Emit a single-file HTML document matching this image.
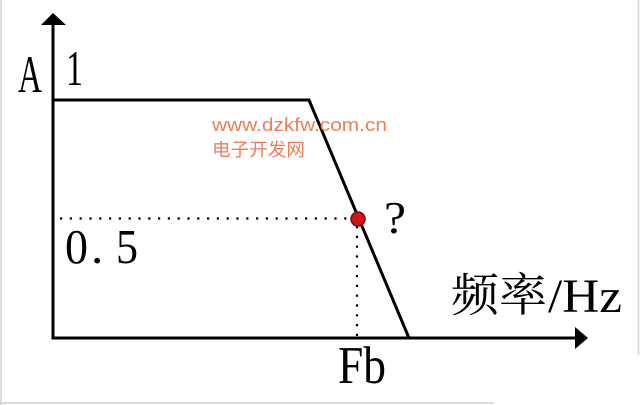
<!DOCTYPE html>
<html><head><meta charset="utf-8"><style>
html,body{margin:0;padding:0;background:#fff;}
svg{display:block;}
</style></head><body>
<svg width="640" height="405" viewBox="0 0 640 405" xmlns="http://www.w3.org/2000/svg">
<rect x="0" y="0" width="640" height="405" fill="#fff"/>
<line x1="1" y1="0" x2="1" y2="405" stroke="#d0d0d0" stroke-width="1.5"/>
<line x1="638.5" y1="0" x2="638.5" y2="355" stroke="#d0d0d0" stroke-width="1.5"/>
<line x1="0" y1="403" x2="494" y2="403" stroke="#d0d0d0" stroke-width="1.5"/>
<!-- axes -->
<line x1="53" y1="22" x2="53" y2="339.5" stroke="#000" stroke-width="3"/>
<polygon points="53,13 41,25 66,25" fill="#000"/>
<line x1="51.5" y1="338" x2="578" y2="338" stroke="#000" stroke-width="3"/>
<polygon points="588,338 575,327 575,349" fill="#000"/>
<!-- curve -->
<polyline points="53,100 309,100 409,338" fill="none" stroke="#000" stroke-width="3"/>
<!-- dotted -->
<line x1="60" y1="218.5" x2="350" y2="218.5" stroke="#000" stroke-width="2.2" stroke-dasharray="2.2 7.6"/>
<line x1="357" y1="226" x2="357" y2="336" stroke="#000" stroke-width="2.2" stroke-dasharray="2.2 7.6"/>
<circle cx="358" cy="219" r="7" fill="#d0141c" stroke="#7a0a0a" stroke-width="1.5"/>
<!-- labels -->
<g font-family="'Liberation Serif','Noto Serif CJK SC',serif" fill="#000">
<text x="18" y="92" font-size="53" textLength="24" lengthAdjust="spacingAndGlyphs">A</text>
<text x="66" y="85" font-size="50" textLength="17" lengthAdjust="spacingAndGlyphs">1</text>
<text x="65" y="263" font-size="49" textLength="23" lengthAdjust="spacingAndGlyphs">0</text>
<text x="91" y="263" font-size="49">.</text>
<text x="116" y="263" font-size="49" textLength="22" lengthAdjust="spacingAndGlyphs">5</text>
<text x="384" y="233" font-size="45" textLength="22" lengthAdjust="spacingAndGlyphs">?</text>
<text x="338" y="383" font-size="53" textLength="48" lengthAdjust="spacingAndGlyphs">Fb</text>
<text x="451" y="311" font-size="46" textLength="96" lengthAdjust="spacingAndGlyphs">频率</text>
<text x="548" y="312" font-size="48" textLength="74" lengthAdjust="spacingAndGlyphs">/Hz</text>
</g>
<g font-family="'Liberation Sans','Noto Sans CJK SC',sans-serif" fill="#ee7d58">
<text x="212" y="131" font-size="18" textLength="175" lengthAdjust="spacingAndGlyphs">www.dzkfw.com.cn</text>
<text x="212" y="156" font-size="18" textLength="93" lengthAdjust="spacingAndGlyphs">电子开发网</text>
</g>
</svg>
</body></html>
